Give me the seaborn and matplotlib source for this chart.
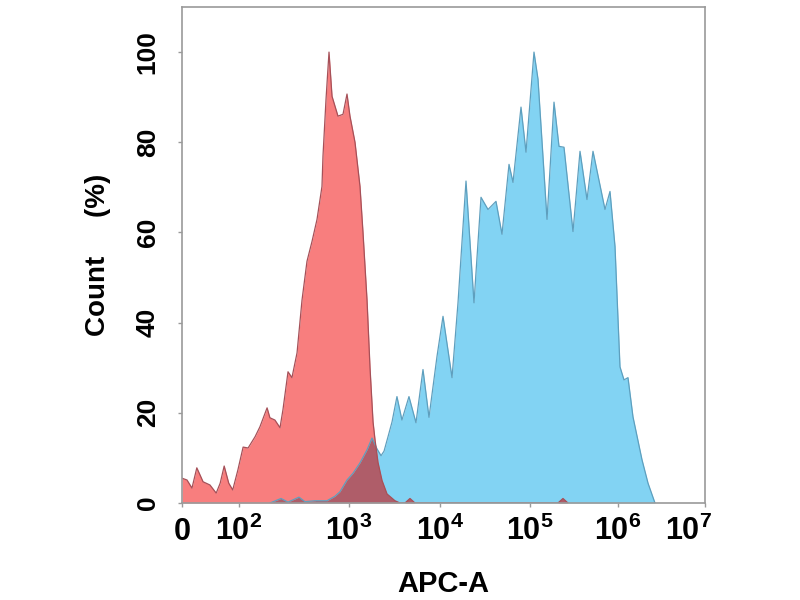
import matplotlib
matplotlib.use("Agg")

import numpy as np
import matplotlib.pyplot as plt
import matplotlib.transforms as mtransforms
import seaborn as sns

# APC-A intensity vs count (% of max)
red_x = [0, 8.8, 17.5, 26, 37, 49, 60, 67, 74, 82, 89, 98,
         109, 121, 140, 155, 180, 191, 212, 236, 251, 279, 303, 337,
         374, 415, 461, 512, 568, 580, 618, 658, 701, 794, 882, 959,
         1025, 1164, 1321, 1425, 1578, 1702, 1837, 1932, 2083, 2306,
         2618, 3199, 3631, 4121, 4677, 5309, 208000, 237000, 270000]
red_y = [5.5, 5.1, 3.3, 7.8, 4.7, 4.0, 2.2, 4.4, 8.2, 4.4, 2.9, 7.3,
         12.4, 12.2, 14.7, 16.9, 21.1, 18.9, 18.4, 16.7, 20.7, 29.1, 27.8, 33.3,
         45, 53.6, 58, 62.9, 70.2, 76.9, 89.5, 100, 90.2, 85.8, 86.2, 90.7,
         85.8, 80, 70.2, 60, 45, 30, 18, 14, 9, 5,
         2, 0.5, 0, 0, 1.0, 0, 0, 1.0, 0]

blue_x = [191, 241, 279, 351, 398, 491, 631, 746, 828, 959,
          1107, 1321, 1578, 1791, 2031, 2250, 2427, 2684, 2972, 3365,
          3817, 4560, 5445, 6503, 7568, 9268, 10800, 13600, 15850, 19450,
          23860, 28550, 34150, 41900, 48850, 58450, 64730, 79430, 90280, 111000,
          123300, 156100, 187400, 213600, 243400, 308100, 370100, 444300, 519900, 711800,
          811100, 924600, 1054000, 1172000, 1303000, 1487000, 1887000, 2213000, 2661000]
blue_y = [0, 1.0, 0.2, 1.3, 0.3, 0.5, 0.5, 1.5, 2.5, 5.1,
          6.6, 8.9, 11.8, 14.4, 12, 10.5, 11.5, 14.7, 18, 23.6,
          18.4, 23.6, 17.8, 29.6, 19, 32.5, 41.4, 27.8, 44.4, 71.4,
          44.4, 67.8, 65.1, 66.9, 59.6, 75.1, 71.1, 87.8, 77.8, 100,
          94, 62.9, 88.9, 79.1, 78.9, 60.2, 78, 67.3, 78, 65.1,
          69.1, 56.9, 30.2, 27.3, 27.8, 19.1, 9.6, 4.4, 0]

x_ticks = [0, 1e2, 1e3, 1e4, 1e5, 1e6, 1e7]
x_tick_labels = ['0', '$10^{2}$', '$10^{3}$', '$10^{4}$', '$10^{5}$', '$10^{6}$', '$10^{7}$']
y_ticks = [0, 20, 40, 60, 80, 100]

# display layout of the biex-like axis: screen offset (px) of each decade
DEC_LOG = [2, 3, 4, 5, 6, 7]
DEC_POS = [57, 167, 258, 348, 436, 523]

RED = '#F87E7E'
BLUE = '#82D3F3'
OVERLAP = '#AF5D69'


def fwd(x):
    x = np.asarray(x, dtype=float)
    lin = x / 100 * DEC_POS[0]
    lg = np.interp(np.log10(np.maximum(x, 100)), DEC_LOG, DEC_POS)
    return np.where(x < 100, lin, lg)


def inv(p):
    p = np.asarray(p, dtype=float)
    lin = p / DEC_POS[0] * 100
    lg = 10 ** np.interp(p, DEC_POS, DEC_LOG)
    return np.where(p < DEC_POS[0], lin, lg)


sns.set_theme(style="white")
plt.rcParams['font.family'] = ['Liberation Sans', 'DejaVu Sans']
plt.rcParams['font.weight'] = 'bold'
plt.rcParams['mathtext.fontset'] = 'custom'
plt.rcParams['mathtext.rm'] = 'Liberation Sans:bold'
plt.rcParams['mathtext.bf'] = 'Liberation Sans:bold'
plt.rcParams['mathtext.default'] = 'bf'

fig = plt.figure(figsize=(8, 6), dpi=100)
ax = fig.add_axes([182 / 800, 97 / 600, 523 / 800, 496 / 600])
ax.set_xscale('function', functions=(fwd, inv))

blue_fill = ax.fill_between(blue_x, blue_y, color=BLUE, lw=0)
red_fill = ax.fill_between(red_x, red_y, color=RED, lw=0)
# where the two histograms overlap the colours darken
over = ax.fill_between(blue_x, blue_y, color=OVERLAP, lw=0)
over.set_clip_path(red_fill.get_paths()[0], ax.transData)

sns.lineplot(x=blue_x, y=blue_y, ax=ax, color='#5E9FBE', lw=0.9, estimator=None)
sns.lineplot(x=red_x, y=red_y, ax=ax, color='#A65058', lw=0.9, estimator=None)

ax.set_xlim(0, 1e7)
ax.set_ylim(0, 110)
ax.set_xticks(x_ticks)
ax.set_xticklabels(x_tick_labels)
ax.set_yticks(y_ticks)
ax.set_yticklabels([str(v) for v in y_ticks])

ax.tick_params(axis='both', which='major', direction='out', length=3, width=1,
               color='#9a9a9a', labelcolor='black', bottom=True, left=True)
ax.tick_params(axis='x', labelsize=22, pad=24)
ax.tick_params(axis='y', labelsize=19, pad=13, labelrotation=90)
for lab in ax.get_xticklabels():
    lab.set_va('baseline')
    lab.set_fontweight('bold')
for lab in ax.get_yticklabels():
    lab.set_va('center')
    lab.set_fontweight('bold')
# the last decade label sits a little left of its tick
last = ax.get_xticklabels()[-1]
last.set_transform(last.get_transform() + mtransforms.ScaledTranslation(-16 / 100, 0, fig.dpi_scale_trans))

ax.set_ylabel('Count     (%)', fontsize=20, fontweight='bold', color='black')
ax.set_xlabel('APC-A', fontsize=21, fontweight='bold', color='black')
ax.yaxis.set_label_coords(-0.136, 0.5)
ax.xaxis.set_label_coords(0.5, -0.135)

for sp in ax.spines.values():
    sp.set_color('#9a9a9a')
    sp.set_linewidth(1.2)
    sp.set_zorder(3)

fig.savefig('out.png', dpi=100)
plt.close(fig)
